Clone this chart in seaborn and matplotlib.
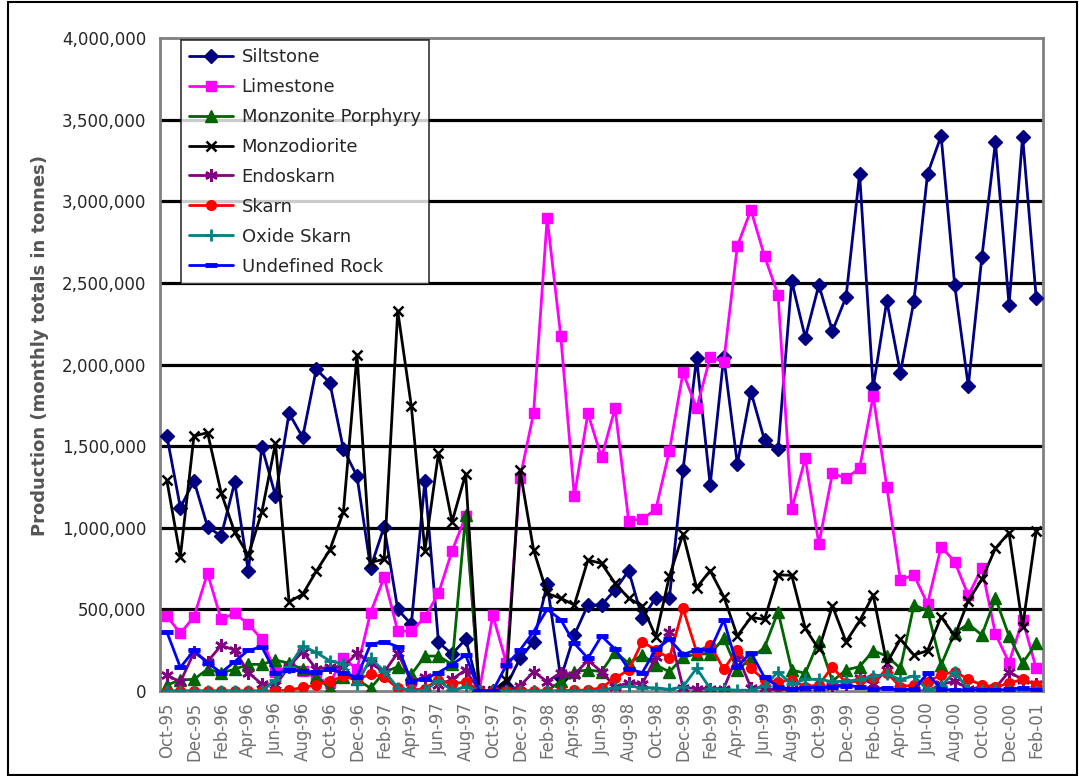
import numpy as np
import pandas as pd
import matplotlib
matplotlib.use('Agg')
import matplotlib.pyplot as plt
import seaborn as sns
from matplotlib.ticker import FuncFormatter
from matplotlib.patches import Rectangle

# Monthly categories, Oct-95 .. Feb-01
months = pd.date_range('1995-10-01', periods=65, freq='MS').strftime('%b-%y').tolist()

siltstone = [1565000, 1123000, 1288000, 1006000, 949000, 1278000, 733000, 1497000, 1196000, 1701000,
             1554000, 1970000, 1889000, 1482000, 1317000, 755000, 1006000, 500000, 408000, 1288000,
             298000, 227000, 317000, 0, 0, 30000, 200000, 302000, 655000, 78000,
             343000, 527000, 527000, 619000, 737000, 445000, 571000, 571000, 1354000, 2038000,
             1262000, 2048000, 1390000, 1833000, 1537000, 1480000, 2511000, 2165000, 2487000, 2205000,
             2413000, 3167000, 1860000, 2389000, 1950000, 2389000, 3167000, 3400000, 2487000, 1868000,
             2658000, 3363000, 2364000, 3395000, 2410000]

limestone = [459000, 353000, 455000, 721000, 439000, 476000, 410000, 317000, 118000, 150000,
             120000, 80000, 50000, 200000, 135000, 480000, 696000, 367000, 367000, 451000,
             598000, 858000, 1070000, 0, 465000, 170000, 1303000, 1701000, 2897000, 2175000,
             1194000, 1701000, 1431000, 1732000, 1043000, 1053000, 1113000, 1472000, 1952000, 1732000,
             2044000, 2017000, 2726000, 2946000, 2664000, 2426000, 1113000, 1425000, 901000, 1333000,
             1303000, 1364000, 1807000, 1251000, 680000, 711000, 533000, 884000, 792000, 586000,
             752000, 349000, 174000, 435000, 139000]

monzonite_porphyry = [37000, 67000, 72000, 133000, 112000, 133000, 163000, 163000, 190000, 170000,
                      133000, 88000, 17000, 88000, 72000, 17000, 114000, 149000, 102000, 214000,
                      214000, 163000, 1078000, 0, 0, 0, 0, 0, 0, 60000,
                      118000, 129000, 118000, 241000, 170000, 220000, 159000, 118000, 206000, 227000,
                      227000, 323000, 129000, 200000, 267000, 486000, 129000, 108000, 308000, 60000,
                      129000, 149000, 247000, 214000, 139000, 527000, 492000, 159000, 357000, 410000,
                      343000, 568000, 337000, 170000, 292000]

monzodiorite = [1292000, 823000, 1562000, 1582000, 1215000, 972000, 831000, 1098000, 1517000, 547000,
                592000, 733000, 864000, 1098000, 2058000, 788000, 807000, 2328000, 1746000, 859000,
                1456000, 1037000, 1329000, 0, 0, 67000, 1354000, 864000, 598000, 568000,
                527000, 802000, 782000, 660000, 568000, 521000, 333000, 704000, 962000, 633000,
                737000, 578000, 337000, 451000, 439000, 711000, 709000, 384000, 255000, 521000,
                302000, 429000, 588000, 170000, 317000, 220000, 247000, 455000, 337000, 553000,
                684000, 874000, 970000, 394000, 980000]

endoskarn = [98000, 55000, 236000, 180000, 279000, 251000, 113000, 42000, 35000, 150000,
             241000, 136000, 145000, 149000, 231000, 170000, 116000, 234000, 57000, 86000,
             36000, 72000, 129000, 0, 0, 0, 30000, 118000, 57000, 113000,
             100000, 188000, 118000, 26000, 50000, 43000, 210000, 362000, 20000, 15000,
             15000, 15000, 220000, 20000, 20000, 0, 15000, 20000, 20000, 30000,
             40000, 78000, 45000, 129000, 20000, 0, 0, 40000, 60000, 15000,
             20000, 20000, 118000, 70000, 40000]

skarn = [0, 0, 0, 0, 0, 0, 0, 0, 0, 5000,
         22000, 37000, 60000, 90000, 70000, 103000, 86000, 16000, 5000, 15000,
         70000, 42000, 57000, 0, 0, 0, 0, 0, 0, 0,
         5000, 5000, 20000, 78000, 129000, 302000, 251000, 200000, 506000, 241000,
         282000, 133000, 253000, 139000, 67000, 57000, 67000, 26000, 37000, 149000,
         47000, 67000, 78000, 112000, 26000, 37000, 57000, 98000, 118000, 72000,
         37000, 26000, 47000, 72000, 39000]

oxide_skarn = [0, 0, 0, 0, 0, 0, 0, 0, 67000, 150000,
               276000, 236000, 185000, 165000, 40000, 200000, 123000, 20000, 5000, 5000,
               62000, 5000, 23000, 0, 0, 0, 0, 0, 0, 0,
               0, 0, 5000, 20000, 30000, 20000, 20000, 10000, 26000, 139000,
               15000, 10000, 5000, 5000, 30000, 118000, 40000, 72000, 72000, 57000,
               60000, 70000, 90000, 105000, 70000, 93000, 5000, 30000, 118000, 10000,
               5000, 5000, 0, 0, 0]

undefined_rock = [363000, 144000, 249000, 172000, 113000, 180000, 249000, 270000, 108000, 131000,
                  120000, 114000, 133000, 108000, 85000, 287000, 302000, 272000, 59000, 73000,
                  113000, 162000, 220000, 0, 0, 160000, 251000, 363000, 500000, 437000,
                  292000, 200000, 337000, 256000, 134000, 113000, 255000, 316000, 225000, 251000,
                  250000, 435000, 150000, 235000, 83000, 27000, 10000, 20000, 20000, 26000,
                  33000, 26000, 10000, 20000, 5000, 10000, 108000, 10000, 5000, 5000,
                  5000, 5000, 10000, 20000, 5000]

series = [
    ('Siltstone', siltstone, '#000080', 'D', 7, 1),
    ('Limestone', limestone, '#FF00FF', 's', 7, 1),
    ('Monzonite Porphyry', monzonite_porphyry, '#006400', '^', 8, 1),
    ('Monzodiorite', monzodiorite, '#000000', 'x', 7, 1.8),
    ('Endoskarn', endoskarn, '#800080', (6, 2, 0), 9, 1.8),
    ('Skarn', skarn, '#FF0000', 'o', 7, 1),
    ('Oxide Skarn', oxide_skarn, '#008080', '+', 9, 2),
    ('Undefined Rock', undefined_rock, '#0000FF', '_', 8, 3.5),
]

sns.set_style('white')
plt.rcParams['font.family'] = ['DejaVu Sans']

fig = plt.figure(figsize=(10.79, 7.76), dpi=100)
ax = fig.add_axes([160 / 1079, 1 - 691 / 776, 883 / 1079, 653 / 776])

x = np.arange(len(months))

# gridlines behind the data
for v in range(500000, 4000000, 500000):
    ax.axhline(v, color='black', lw=2.3, zorder=0.5)

for name, vals, col, mk, ms, mew in series:
    sns.lineplot(x=x, y=vals, ax=ax, color=col, marker=mk, markersize=ms,
                 markeredgewidth=mew, markeredgecolor=col, markerfacecolor=col,
                 linewidth=2, label=name, zorder=3)

ax.set_xlim(-0.5, len(months) - 0.5)
ax.set_ylim(0, 4000000)
ax.set_yticks(range(0, 4000001, 500000))
ax.yaxis.set_major_formatter(FuncFormatter(lambda v, p: f'{v:,.0f}'))

ax.set_xticks(x[::2])
ax.set_xticklabels(months[::2], rotation=90, color='#707070', fontsize=12, va='top', ha='center')
ax.set_xticks(np.arange(1.5, len(months), 2), minor=True)
ax.tick_params(axis='x', which='major', length=0, pad=8)
ax.tick_params(axis='x', which='minor', length=4, width=1.2, color='#404040', direction='out')
ax.tick_params(axis='y', length=8, width=1.5, color='black', direction='out', labelsize=12, pad=2)
ax.set_xlabel('')
ax.set_ylabel('')

for s in ax.spines.values():
    s.set_color('#808080')
    s.set_linewidth(2)
    s.set_visible(True)

fig.text(40 / 1079, 1 - 346 / 776, 'Production (monthly totals in tonnes)', rotation=90,
         ha='center', va='center', fontsize=13, fontweight='bold', color='#555555')

leg = ax.legend(loc='upper left', bbox_to_anchor=(0.024, 0.997), borderaxespad=0,
                fontsize=13, frameon=True, fancybox=False, edgecolor='black',
                handlelength=2.4, handletextpad=0.5, labelspacing=0.66, borderpad=0.45)
leg.get_frame().set_linewidth(1.2)
leg.set_zorder(5)

fig.add_artist(Rectangle((8 / 1079, 0.001), 1 - 8 / 1079 - 0.002, 0.997,
                         transform=fig.transFigure, fill=False, ec='black', lw=1.5))

fig.savefig('out.png', dpi=100)
